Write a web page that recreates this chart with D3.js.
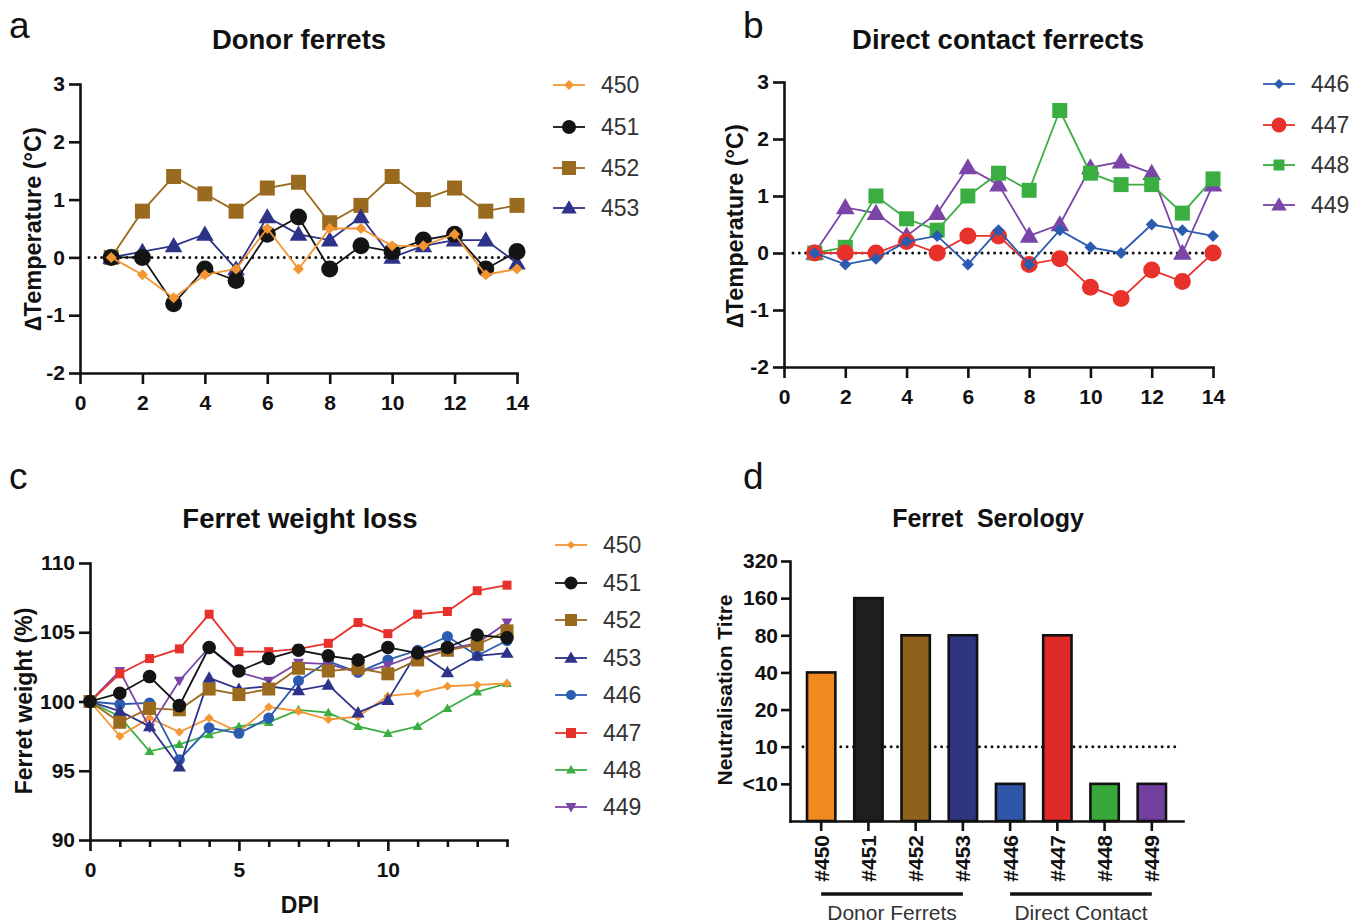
<!DOCTYPE html>
<html>
<head>
<meta charset="utf-8">
<script src="https://cdn.jsdelivr.net/npm/d3@7"></script>
<style>
  body { margin: 0; background: #fff; }
  text { font-family: "Liberation Sans", Arial, sans-serif; }
</style>
</head>
<body>
<div id="chart"></div>
<script>
// ---- data ----
const tempDays = [1, 2, 3, 4, 5, 6, 7, 8, 9, 10, 11, 12, 13, 14];
const tempTicksX = [0, 2, 4, 6, 8, 10, 12, 14];
const tempTicksY = [-2, -1, 0, 1, 2, 3];

// donor ferrets, change in temperature
const temp450 = [0, -0.3, -0.7, -0.3, -0.2, 0.5, -0.2, 0.5, 0.5, 0.2, 0.2, 0.4, -0.3, -0.2];
const temp451 = [0, 0, -0.8, -0.2, -0.4, 0.4, 0.7, -0.2, 0.2, 0.1, 0.3, 0.4, -0.2, 0.1];
const temp452 = [0, 0.8, 1.4, 1.1, 0.8, 1.2, 1.3, 0.6, 0.9, 1.4, 1.0, 1.2, 0.8, 0.9];
const temp453 = [0, 0.1, 0.2, 0.4, -0.2, 0.7, 0.4, 0.3, 0.7, 0, 0.2, 0.3, 0.3, -0.1];

// direct contact ferrets
const temp446 = [0, -0.2, -0.1, 0.2, 0.3, -0.2, 0.4, -0.2, 0.4, 0.1, 0, 0.5, 0.4, 0.3];
const temp447 = [0, 0, 0, 0.2, 0, 0.3, 0.3, -0.2, -0.1, -0.6, -0.8, -0.3, -0.5, 0];
const temp448 = [0, 0.1, 1.0, 0.6, 0.4, 1.0, 1.4, 1.1, 2.5, 1.4, 1.2, 1.2, 0.7, 1.3];
const temp449 = [0, 0.8, 0.7, 0.3, 0.7, 1.5, 1.2, 0.3, 0.5, 1.5, 1.6, 1.4, 0, 1.2];

// weight (% of day 0)
const weightDays = [0, 1, 2, 3, 4, 5, 6, 7, 8, 9, 10, 11, 12, 13, 14];
const weightTicksY = [90, 95, 100, 105, 110];
const weightLabelsX = [0, 5, 10];
const w450 = [100, 97.5, 98.8, 97.8, 98.8, 97.8, 99.6, 99.3, 98.7, 98.9, 100.4, 100.6, 101.1, 101.2, 101.3];
const w451 = [100, 100.6, 101.8, 99.7, 103.9, 102.2, 103.1, 103.7, 103.3, 103.0, 103.9, 103.5, 103.9, 104.8, 104.6];
const w452 = [100, 98.5, 99.5, 99.4, 100.9, 100.5, 100.9, 102.4, 102.2, 102.4, 102.0, 103.0, 103.7, 104.1, 105.1];
const w453 = [100, 99.3, 98.2, 95.3, 101.7, 100.9, 101.1, 100.8, 101.2, 99.2, 100.1, 103.6, 102.1, 103.3, 103.5];
const w446 = [100, 99.8, 99.9, 95.8, 98.1, 97.7, 98.8, 101.5, 102.9, 102.1, 103.0, 103.7, 104.7, 103.3, 104.4];
const w447 = [100, 102.0, 103.1, 103.8, 106.3, 103.6, 103.6, 103.8, 104.2, 105.7, 104.9, 106.3, 106.5, 108.0, 108.4];
const w448 = [100, 98.9, 96.4, 96.9, 97.6, 98.2, 98.5, 99.4, 99.2, 98.2, 97.7, 98.2, 99.5, 100.7, 101.3];
const w449 = [100, 102.2, 98.1, 101.5, 103.9, 102.1, 101.5, 102.8, 102.7, 102.1, 102.6, 103.4, 103.8, 104.2, 105.7];

// serology ("<10" drawn at 5)
const seroLabels = ['#450', '#451', '#452', '#453', '#446', '#447', '#448', '#449'];
const seroTitre = [40, 160, 80, 80, 5, 80, 5, 5];
const seroTicks = [5, 10, 20, 40, 80, 160, 320];
const seroTickLabels = ['<10', '10', '20', '40', '80', '160', '320'];

// ---- colours / markers ----
const col = {
    '450': '#f39533', '451': '#141414', '452': '#9a6a1f', '453': '#2d3388',
    '446': '#2b5cb0', '447': '#e8312b', '448': '#3aae40', '449': '#7a45a6'
};
const barCol = {
    '#450': '#f08a1f', '#451': '#1e1e1e', '#452': '#8e621c', '#453': '#2f3580',
    '#446': '#2f56a8', '#447': '#e02a27', '#448': '#38a83b', '#449': '#71409e'
};

const W = 1364, H = 923;
const TICK_FS = 21;
const svg = d3.select('#chart').append('svg')
    .attr('width', W).attr('height', H);

function shape(kind, r) {
    if (kind === 'circle') return d3.symbol(d3.symbolCircle, Math.PI * r * r)();
    if (kind === 'square') return `M${-r},${-r}h${2 * r}v${2 * r}h${-2 * r}Z`;
    if (kind === 'diamond') return `M0,${-r}L${r},0L0,${r}L${-r},0Z`;
    if (kind === 'triangle') return `M0,${-r * 1.1}L${r * 1.1},${r * 0.8}L${-r * 1.1},${r * 0.8}Z`;
    if (kind === 'down') return `M0,${r * 1.1}L${r * 1.1},${-r * 0.8}L${-r * 1.1},${-r * 0.8}Z`;
}

// plain hyphen for negatives, like the figure
const plain = d => String(d);

function styleAxis(g, fs) {
    g.selectAll('path, line').attr('stroke', '#111').attr('stroke-width', 2.6);
    g.selectAll('text').attr('font-size', fs).attr('font-weight', 'bold').attr('fill', '#111');
    g.select('.domain').attr('stroke-linecap', 'square');
}

function linePanel(x_scale, y_scale, days, series, xTicks, yTicks) {
    const xg = svg.append('g')
        .attr('class', 'xaxis')
        .attr('transform', `translate(0, ${y_scale.range()[0]})`)
        .call(d3.axisBottom(x_scale).tickValues(xTicks).tickFormat(plain)
            .tickSize(11).tickSizeOuter(0).tickPadding(11));
    styleAxis(xg, TICK_FS);

    const yg = svg.append('g')
        .attr('transform', `translate(${x_scale.range()[0]}, 0)`)
        .call(d3.axisLeft(y_scale).tickValues(yTicks).tickFormat(plain)
            .tickSize(11).tickSizeOuter(0).tickPadding(4));
    styleAxis(yg, TICK_FS);

    const line = d3.line().x((d, i) => x_scale(days[i])).y(d => y_scale(d));
    series.forEach(s => {
        svg.append('path')
            .attr('d', line(s.values))
            .attr('fill', 'none')
            .attr('stroke', col[s.id])
            .attr('stroke-width', s.lw || 1.8);
        svg.append('g').selectAll('path')
            .data(s.values)
            .enter()
            .append('path')
            .attr('d', shape(s.shape, s.r))
            .attr('transform', (d, i) => `translate(${x_scale(days[i])}, ${y_scale(d)})`)
            .attr('fill', col[s.id]);
    });
    return xg;
}

function dotted(x1, x2, y) {
    svg.append('line')
        .attr('x1', x1).attr('x2', x2).attr('y1', y).attr('y2', y)
        .attr('stroke', '#111').attr('stroke-width', 3)
        .attr('stroke-dasharray', '0,6.3').attr('stroke-linecap', 'round');
}

function legend(x, ys, items) {
    items.forEach((s, i) => {
        const g = svg.append('g').attr('transform', `translate(${x}, ${ys[i]})`);
        g.append('line').attr('x1', -16).attr('x2', 16).attr('stroke', col[s.id]).attr('stroke-width', 1.8);
        g.append('path').attr('d', shape(s.shape, s.lr)).attr('fill', col[s.id]);
        g.append('text').attr('x', 32).attr('y', 8).attr('font-size', 23).attr('fill', '#333').text(s.id);
    });
}

function label(txt, x, y, fs, opts = {}) {
    const t = svg.append('text')
        .attr('x', x).attr('y', y)
        .attr('font-size', fs)
        .attr('font-weight', opts.weight || 'bold')
        .attr('text-anchor', opts.anchor || 'middle')
        .attr('fill', opts.fill || '#111')
        .text(txt);
    if (opts.rotate) t.attr('transform', `rotate(-90, ${x}, ${y})`);
    return t;
}

function panelLetter(txt, x, y) {
    label(txt, x, y, 37, { weight: 'normal', anchor: 'start' });
}

// ---------- panel a ----------
const xa = d3.scaleLinear().domain([0, 14]).range([80, 517]);
const ya = d3.scaleLinear().domain([-2, 3]).range([373, 84]);
dotted(xa(0) + 9, xa(14), ya(0));
const donorSeries = [
    { id: '452', values: temp452, shape: 'square', r: 7.5, lr: 7 },
    { id: '453', values: temp453, shape: 'triangle', r: 8, lr: 7 },
    { id: '451', values: temp451, shape: 'circle', r: 8.5, lr: 7 },
    { id: '450', values: temp450, shape: 'diamond', r: 5.5, lr: 5 }
];
linePanel(xa, ya, tempDays, donorSeries, tempTicksX, tempTicksY);
legend(569, [85, 127, 168, 208], [donorSeries[3], donorSeries[2], donorSeries[0], donorSeries[1]]);
label('Donor ferrets', 299, 49, 27.5);
label('\u2206Temperature (\u00b0C)', 41, 229, 23.5, { rotate: true });
panelLetter('a', 9, 38);

// ---------- panel b ----------
const xb = d3.scaleLinear().domain([0, 14]).range([784, 1213]);
const yb = d3.scaleLinear().domain([-2, 3]).range([367, 82]);
dotted(xb(0) + 9, xb(14), yb(0));
const contactSeries = [
    { id: '449', values: temp449, shape: 'triangle', r: 8.5, lr: 7 },
    { id: '448', values: temp448, shape: 'square', r: 7.5, lr: 5.5 },
    { id: '447', values: temp447, shape: 'circle', r: 8.5, lr: 7.5 },
    { id: '446', values: temp446, shape: 'diamond', r: 6, lr: 5 }
];
linePanel(xb, yb, tempDays, contactSeries, tempTicksX, tempTicksY);
legend(1279, [84, 125, 165, 205], [contactSeries[3], contactSeries[2], contactSeries[1], contactSeries[0]]);
label('Direct contact ferrects', 998, 49, 27.5);
label('\u2206Temperature (\u00b0C)', 743, 226, 23.5, { rotate: true });
panelLetter('b', 743, 38);

// ---------- panel c ----------
const xc = d3.scaleLinear().domain([0, 14]).range([90, 507]);
const yc = d3.scaleLinear().domain([90, 110]).range([840, 563]);
const weightSeries = [
    { id: '448', values: w448, shape: 'triangle', r: 4.5, lr: 4.5 },
    { id: '450', values: w450, shape: 'diamond', r: 4.5, lr: 4 },
    { id: '446', values: w446, shape: 'circle', r: 5.5, lr: 5 },
    { id: '449', values: w449, shape: 'down', r: 5, lr: 5 },
    { id: '453', values: w453, shape: 'triangle', r: 6, lr: 6 },
    { id: '447', values: w447, shape: 'square', r: 4.5, lr: 5 },
    { id: '452', values: w452, shape: 'square', r: 6.5, lr: 6 },
    { id: '451', values: w451, shape: 'circle', r: 6.8, lr: 6.5 }
];
const xcg = linePanel(xc, yc, weightDays, weightSeries, weightDays, weightTicksY);
// only 0, 5, 10 carry labels; the other day ticks are shorter
xcg.selectAll('.tick').each(function (d) {
    const t = d3.select(this);
    if (!weightLabelsX.includes(d)) {
        t.select('text').remove();
        t.select('line').attr('y2', 7);
    }
});
const byId = {};
weightSeries.forEach(s => byId[s.id] = s);
legend(571, [545, 583, 620, 658, 695, 733, 770, 807],
    ['450', '451', '452', '453', '446', '447', '448', '449'].map(k => byId[k]));
label('Ferret weight loss', 300, 528, 27.5);
label('Ferret weight (%)', 32, 701, 23, { rotate: true });
label('DPI', 300, 913, 23);
panelLetter('c', 9, 489);

// ---------- panel d ----------
const xd = d3.scaleBand().domain(seroLabels).range([790, 1183]).paddingInner(0.4).paddingOuter(0.36);
const yd = d3.scaleLog().base(2).domain([2.5, 320]).range([821, 561]);

dotted(803, 1178, yd(10));

svg.selectAll('.bar')
    .data(seroLabels)
    .enter()
    .append('rect')
    .attr('class', 'bar')
    .attr('x', d => xd(d))
    .attr('width', xd.bandwidth())
    .attr('y', (d, i) => yd(seroTitre[i]))
    .attr('height', (d, i) => yd(2.5) - yd(seroTitre[i]))
    .attr('fill', d => barCol[d])
    .attr('stroke', '#111')
    .attr('stroke-width', 2.6);

const xdg = svg.append('g')
    .attr('transform', `translate(0, ${yd(2.5)})`)
    .call(d3.axisBottom(xd).tickSize(10).tickSizeOuter(0));
styleAxis(xdg, 21);
xdg.selectAll('text')
    .attr('transform', 'rotate(-90)')
    .attr('x', -14).attr('y', 0).attr('dy', '0.36em')
    .attr('text-anchor', 'end');

const ydg = svg.append('g')
    .attr('transform', `translate(790, 0)`)
    .call(d3.axisLeft(yd).tickValues(seroTicks).tickFormat((d, i) => seroTickLabels[i])
        .tickSize(9).tickSizeOuter(0).tickPadding(3));
styleAxis(ydg, 21);

// group brackets under the labels
const groups = [
    { name: 'Donor Ferrets', from: '#450', to: '#453' },
    { name: 'Direct Contact', from: '#446', to: '#449' }
];
groups.forEach(gr => {
    const x1 = xd(gr.from) + xd.bandwidth() / 2;
    const x2 = xd(gr.to) + xd.bandwidth() / 2;
    svg.append('line').attr('x1', x1).attr('x2', x2).attr('y1', 894).attr('y2', 894)
        .attr('stroke', '#111').attr('stroke-width', 3.5);
    label(gr.name, (x1 + x2) / 2, 920, 21, { weight: 'normal', fill: '#333' });
});

label('Ferret  Serology', 988, 527, 25).attr('xml:space', 'preserve').style('white-space', 'pre');
label('Neutralisation Titre', 732, 690, 21, { rotate: true });
panelLetter('d', 743, 489);
</script>
</body>
</html>
